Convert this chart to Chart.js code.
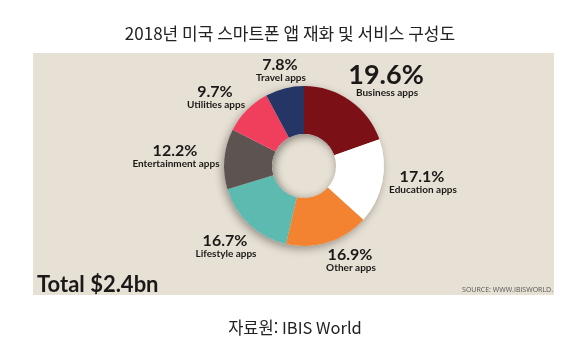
<!DOCTYPE html>
<html lang="ko">
<head>
  <meta charset="UTF-8" />
  <title>2018년 미국 스마트폰 앱 재화 및 서비스 구성도</title>
  <script src="https://cdn.jsdelivr.net/npm/chart.js"></script>
  <style>
    html, body { margin: 0; padding: 0; background: #fff; }
    #wrap { width: 570px; height: 346px; }
  </style>
</head>
<body>
  <div id="wrap"><canvas id="appChart" width="570" height="346"></canvas></div>

  <script>
    // chart data
    const categories = ['Business apps', 'Education apps', 'Other apps', 'Lifestyle apps',
                        'Entertainment apps', 'Utilities apps', 'Travel apps'];
    const shares = [19.6, 17.1, 16.9, 16.7, 12.2, 9.7, 7.8];
    const sliceColors = ['#7b1116', '#ffffff', '#f38331', '#5cbab1', '#5d5350', '#ef3f5c', '#243566'];

    const titleText = '2018년 미국 스마트폰 앱 재화 및 서비스 구성도';
    const sourceText = '자료원: IBIS World';
    const totalText = 'Total $2.4bn';
    const creditText = 'SOURCE: WWW.IBISWORLD.';

    // label placement relative to donut centre (dx, dy of the percent text)
    const labelOffsets = [[82, -91], [118, 11], [46, 89], [-79, 75], [-129, -15], [-89, -74], [-24, -101]];

    const ink = '#1b1918';

    const backdrop = {
      id: 'backdrop',
      beforeDraw(chart) {
        const ctx = chart.ctx;
        ctx.save();
        ctx.fillStyle = '#fff';
        ctx.fillRect(0, 0, chart.width, chart.height);
        ctx.fillStyle = '#e7e0d4';
        ctx.fillRect(33, 53, 521, 242);

        ctx.fillStyle = '#222';
        ctx.textAlign = 'center';
        ctx.textBaseline = 'middle';
        ctx.font = '17px "Noto Sans CJK KR", "Noto Sans", sans-serif';
        ctx.fillText(titleText, 290, 34);
        ctx.font = '16.5px "Noto Sans CJK KR", "Noto Sans", sans-serif';
        ctx.fillText(sourceText, 295, 328);

        ctx.fillStyle = ink;
        ctx.textAlign = 'left';
        ctx.textBaseline = 'alphabetic';
        ctx.font = 'bold 22px Lato, "Open Sans", sans-serif';
        ctx.fillText(totalText, 37, 292);

        ctx.fillStyle = '#555';
        ctx.textAlign = 'right';
        ctx.font = '7px "Open Sans", sans-serif';
        ctx.fillText(creditText, 553, 292);
        ctx.restore();
      },
      beforeDatasetsDraw(chart) {
        // soft drop shadow behind the ring
        const arc = chart.getDatasetMeta(0).data[0];
        const ctx = chart.ctx;
        ctx.save();
        ctx.shadowColor = 'rgba(0,0,0,0.35)';
        ctx.shadowBlur = 9;
        ctx.shadowOffsetX = -2;
        ctx.shadowOffsetY = 3;
        ctx.fillStyle = '#e7e0d4';
        ctx.beginPath();
        ctx.arc(arc.x, arc.y, arc.outerRadius, 0, Math.PI * 2);
        ctx.fill();
        ctx.restore();
      },
      afterDatasetsDraw(chart) {
        const meta = chart.getDatasetMeta(0);
        const arc = meta.data[0];
        const ctx = chart.ctx;
        const cx = arc.x, cy = arc.y;

        // inner shadow in the hole
        ctx.save();
        ctx.beginPath();
        ctx.arc(cx, cy, arc.innerRadius, 0, Math.PI * 2);
        ctx.clip();
        ctx.shadowColor = 'rgba(0,0,0,0.45)';
        ctx.shadowBlur = 8;
        ctx.shadowOffsetX = 2;
        ctx.shadowOffsetY = 2;
        ctx.strokeStyle = '#e7e0d4';
        ctx.lineWidth = 10;
        ctx.beginPath();
        ctx.arc(cx, cy, arc.innerRadius + 5, 0, Math.PI * 2);
        ctx.stroke();
        ctx.restore();

        // slice labels
        ctx.save();
        ctx.fillStyle = ink;
        ctx.textAlign = 'center';
        ctx.textBaseline = 'middle';
        shares.forEach((v, i) => {
          const [dx, dy] = labelOffsets[i];
          const big = i === 0;
          ctx.font = (big ? 'bold 27px' : 'bold 16px') + ' Lato, "Open Sans", sans-serif';
          ctx.fillText(v.toFixed(1) + '%', cx + dx, cy + dy);
          ctx.font = 'bold 10px Lato, "Open Sans", sans-serif';
          ctx.fillText(categories[i], cx + dx + 1, cy + dy + (big ? 18 : 12.5));
        });
        ctx.restore();
      }
    };

    new Chart(document.getElementById('appChart'), {
      type: 'doughnut',
      data: {
        labels: categories,
        datasets: [{
          data: shares,
          backgroundColor: sliceColors,
          borderWidth: 0
        }]
      },
      options: {
        responsive: false,
        animation: false,
        cutout: '40%',
        layout: { padding: { left: 224, right: 186, top: 86, bottom: 100 } },
        plugins: {
          legend: { display: false },
          tooltip: { enabled: false }
        }
      },
      plugins: [backdrop]
    });
  </script>
</body>
</html>
